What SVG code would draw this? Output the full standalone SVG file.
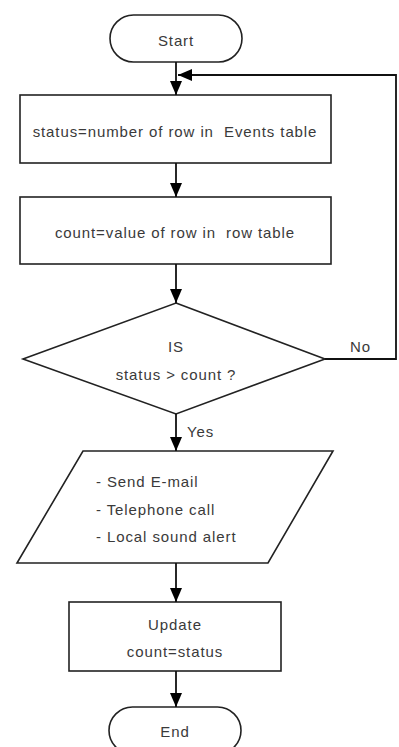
<svg xmlns="http://www.w3.org/2000/svg" width="399" height="747" viewBox="0 0 399 747">
<style>
.s{fill:#fff;stroke:#222;stroke-width:1.6}
.t{font-family:"Liberation Sans",Arial,sans-serif;font-size:15px;fill:#3a3a3a;letter-spacing:0.9px;white-space:pre}
.c{text-anchor:middle}
.l{fill:none;stroke:#111;stroke-width:1.8}
</style>
<defs>
<marker id="ah" viewBox="0 0 14 12" refX="14" refY="6" markerWidth="14" markerHeight="12" markerUnits="userSpaceOnUse" orient="auto">
<path d="M0,0 L14,6 L0,12 Z" fill="#000"/>
</marker>
</defs>
<rect x="0" y="0" width="399" height="747" fill="#fff"/>
<g id="start">
<rect class="s" x="110" y="15" width="132" height="47" rx="23.5"/>
<text class="t c" x="176" y="46">Start</text>
</g>
<g id="n1">
<rect class="s" x="20" y="95" width="311" height="68"/>
<text class="t c" x="175" y="137" xml:space="preserve">status=number of row in  Events table</text>
</g>
<g id="n2">
<rect class="s" x="20" y="197" width="311" height="67"/>
<text class="t c" x="175" y="238" xml:space="preserve">count=value of row in  row table</text>
</g>
<g id="dec">
<polygon class="s" points="176,303 325,359 176,414 23,359"/>
<text class="t c" x="176" y="352">IS</text>
<text class="t c" x="176" y="380">status &gt; count ?</text>
</g>
<g id="io">
<polygon class="s" points="83,451 333,451 268,563 17,563"/>
<text class="t" x="96" y="487">- Send E-mail</text>
<text class="t" x="96" y="515">- Telephone call</text>
<text class="t" x="96" y="542">- Local sound alert</text>
</g>
<g id="upd">
<rect class="s" x="69" y="602" width="212" height="69"/>
<text class="t c" x="175" y="630">Update</text>
<text class="t c" x="175" y="657">count=status</text>
</g>
<g id="end">
<rect class="s" x="109" y="707" width="132" height="47" rx="23.5"/>
<text class="t c" x="175" y="737">End</text>
</g>
<g id="connectors">
<line class="l" x1="176" y1="62" x2="176" y2="95" marker-end="url(#ah)"/>
<line class="l" x1="176" y1="163" x2="176" y2="197" marker-end="url(#ah)"/>
<line class="l" x1="176" y1="264" x2="176" y2="303" marker-end="url(#ah)"/>
<line class="l" x1="176" y1="414" x2="176" y2="451" marker-end="url(#ah)"/>
<line class="l" x1="176" y1="563" x2="176" y2="602" marker-end="url(#ah)"/>
<line class="l" x1="176" y1="671" x2="176" y2="707" marker-end="url(#ah)"/>
<polyline class="l" points="325,359 396,359 396,75 178,75" marker-end="url(#ah)"/>
<text class="t" x="350" y="352">No</text>
<text class="t" x="187" y="437">Yes</text>
</g>
</svg>
